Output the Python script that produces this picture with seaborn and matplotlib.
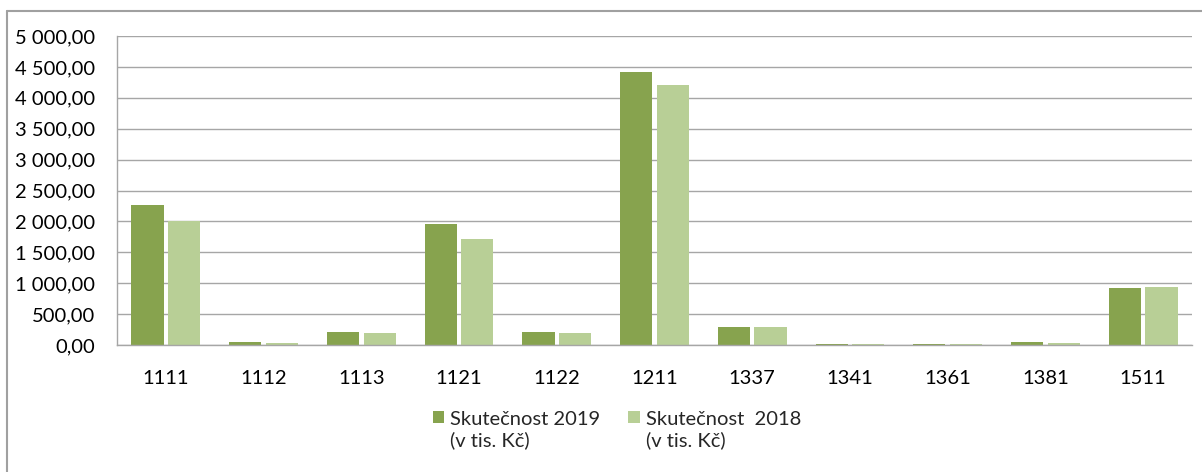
import matplotlib
matplotlib.use("Agg")
import matplotlib.pyplot as plt
import matplotlib.ticker as mticker
from matplotlib.lines import Line2D
import seaborn as sns
import pandas as pd

# data
categories = ["1111", "1112", "1113", "1121", "1122", "1211", "1337", "1341", "1361", "1381", "1511"]
skutecnost_2019 = [2265, 55, 205, 1958, 205, 4417, 286, 20, 20, 55, 922]
skutecnost_2018 = [2006, 30, 190, 1715, 200, 4207, 286, 15, 15, 30, 938]
series_labels = ["Skutečnost 2019\n(v tis. Kč)", "Skutečnost  2018\n(v tis. Kč)"]

df = pd.DataFrame({
    "kod": categories * 2,
    "hodnota": skutecnost_2019 + skutecnost_2018,
    "rada": [series_labels[0]] * len(categories) + [series_labels[1]] * len(categories),
})

sns.set_style("white")
plt.rcParams["font.family"] = ["Lato", "DejaVu Sans"]

fig = plt.figure(figsize=(12.02, 4.72), dpi=100)
ax = fig.add_axes([117 / 1202, 1 - 345 / 472, (1192 - 117) / 1202, (345 - 36) / 472])

colors = ["#87A34E", "#B8CF96"]
sns.barplot(data=df, x="kod", y="hodnota", hue="rada", palette=colors,
            width=0.75, gap=0.12, ax=ax, legend=True, saturation=1, linewidth=0)

ax.set_ylim(0, 5000)
ax.set_xlim(-0.5, len(categories) - 0.5)
ax.yaxis.set_major_locator(mticker.MultipleLocator(500))
ax.yaxis.set_major_formatter(mticker.FuncFormatter(
    lambda v, p: f"{v:,.2f}".replace(",", " ").replace(".", ",")))
ax.grid(axis="y", color="#A6A6A6", linewidth=1)
ax.set_axisbelow(True)
for s in ["top", "right"]:
    ax.spines[s].set_visible(False)
for s in ["left", "bottom"]:
    ax.spines[s].set_color("#A6A6A6")
    ax.spines[s].set_linewidth(1)
ax.tick_params(axis="y", length=0, pad=16, labelsize=14.5, labelcolor="#000000")
ax.tick_params(axis="x", length=0, pad=18, labelsize=14.5, labelcolor="#000000")
ax.set_xlabel("")
ax.set_ylabel("")

leg = ax.legend(loc="center", bbox_to_anchor=(617 / 1202, 1 - 430 / 472),
                bbox_transform=fig.transFigure, ncol=2, frameon=False,
                fontsize=14.5, handlelength=0.55, handleheight=0.55,
                handletextpad=0.3, columnspacing=1.4)
# put the colour square next to the first line of each label
for col in leg._legend_handle_box.get_children():
    for item in col.get_children():
        item.align = "top"
for t in leg.get_texts():
    t.set_linespacing(1.25)

# outer chart border (left and top)
fig.add_artist(Line2D([7 / 1202, 7 / 1202], [0, 1 - 11 / 472],
                      transform=fig.transFigure, color="#A0A0A0", linewidth=1.5))
fig.add_artist(Line2D([7 / 1202, 1], [1 - 11 / 472, 1 - 11 / 472],
                      transform=fig.transFigure, color="#A0A0A0", linewidth=1.5))

fig.savefig("out.png", dpi=100)
